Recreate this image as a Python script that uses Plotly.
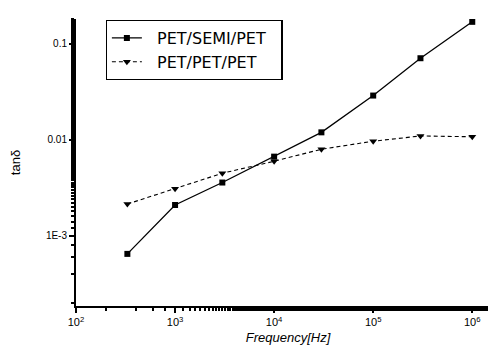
import plotly.graph_objects as go

freq = [330, 1e3, 3e3, 1e4, 3e4, 1e5, 3e5, 1e6]
semi = [6.5e-4, 2.1e-3, 3.6e-3, 6.7e-3, 0.012, 0.029, 0.071, 0.17]
pet = [2.15e-3, 3.1e-3, 4.5e-3, 6.0e-3, 8.0e-3, 9.7e-3, 0.011, 0.0108]
names = ["PET/SEMI/PET", "PET/PET/PET"]
xtick_vals = [1e2, 1e3, 1e4, 1e5, 1e6]
xtick_text = ["10<sup>2</sup>", "10<sup>3</sup>", "10<sup>4</sup>", "10<sup>5</sup>", "10<sup>6</sup>"]
ytick_vals = [1e-3, 1e-2, 1e-1]
ytick_text = ["1E-3", "0.01", "0.1"]

pad = "\u00a0\u00a0"
fig = go.Figure()
fig.add_trace(go.Scatter(x=freq, y=semi, name=pad + names[0] + pad, mode="lines+markers",
                         line=dict(color="black", width=1.3),
                         marker=dict(symbol="square", size=6, color="black")))
fig.add_trace(go.Scatter(x=freq, y=pet, name=pad + names[1] + pad, mode="lines+markers",
                         line=dict(color="black", width=1.1, dash="4px,3px"),
                         marker=dict(symbol="triangle-down", size=7, color="black")))

fig.update_layout(
    width=496, height=352,
    margin=dict(l=68, r=4, t=11, b=54),
    paper_bgcolor="white", plot_bgcolor="white",
    font=dict(family="Liberation Sans, Arial", color="black", size=12),
    legend=dict(x=0.07, y=0.997, xanchor="left", yanchor="top",
                bordercolor="black", borderwidth=1.2, bgcolor="white",
                font=dict(size=16, family="DejaVu Sans"), tracegroupgap=0, itemwidth=30),
    showlegend=True,
)
fig.update_xaxes(type="log", range=[2, 6.28], showline=True, linecolor="black", linewidth=2,
                 mirror=False, showgrid=False, zeroline=False,
                 tickvals=xtick_vals, ticktext=xtick_text, ticks="outside", ticklen=5,
                 tickwidth=1.5, tickcolor="black", tickfont=dict(size=11),
                 minor=dict(ticks="outside", ticklen=3, tickcolor="black", showgrid=False),
                 title=dict(text="<i>Frequency[Hz]</i>", font=dict(size=13), standoff=6))
fig.update_yaxes(type="log", range=[-3.73, -0.74], showline=True, linecolor="black", linewidth=2,
                 mirror=False, showgrid=False, zeroline=False,
                 tickvals=ytick_vals, ticktext=ytick_text, ticks="outside", ticklen=5,
                 tickwidth=1.5, tickcolor="black", tickfont=dict(size=10),
                 minor=dict(ticks="outside", ticklen=3, tickcolor="black", showgrid=False),
                 title=dict(text="tanδ", font=dict(size=13), standoff=22))

fig.write_html("out.html")
